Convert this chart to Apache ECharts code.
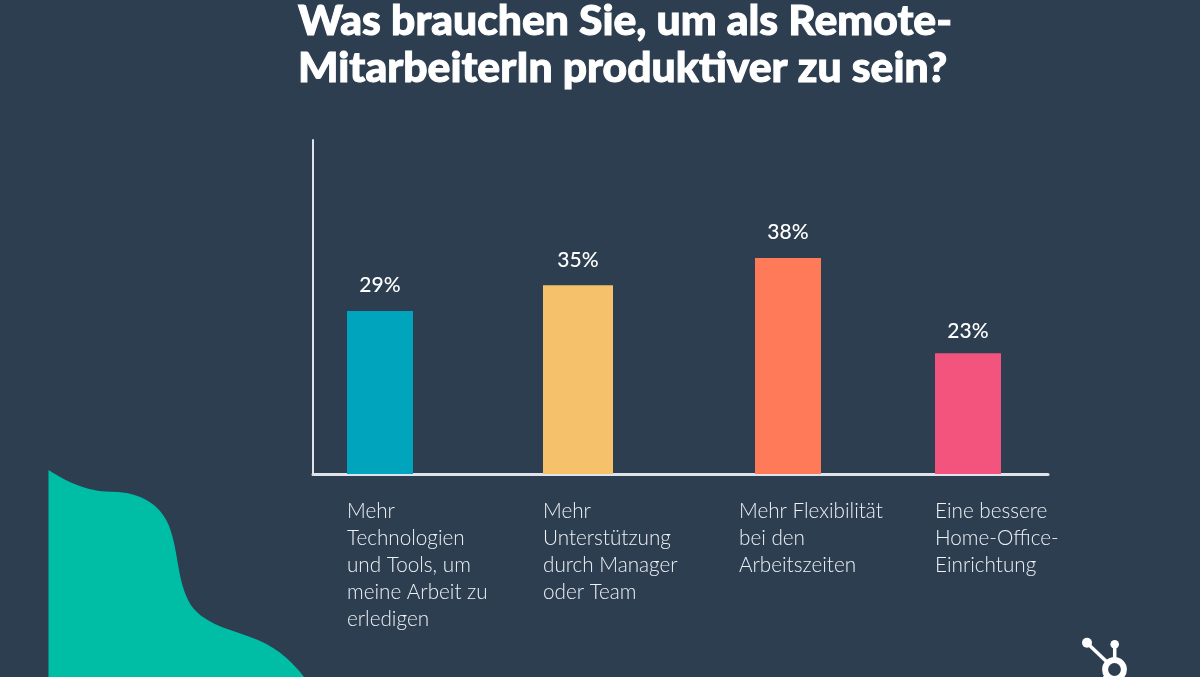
<!DOCTYPE html>
<html>
<head>
<meta charset="utf-8">
<style>
  html, body { margin: 0; padding: 0; background: #2d3e50; }
  #chart { width: 1200px; height: 677px; }
</style>
<script src="https://cdn.jsdelivr.net/npm/echarts@6/dist/echarts.min.js"></script>
</head>
<body>
<div id="chart"></div>
<script>
// Texte und Werte aus der Vorlage
var categories = [
  'Mehr\nTechnologien\nund Tools, um\nmeine Arbeit zu\nerledigen',
  'Mehr\nUnterstützung\ndurch Manager\noder Team',
  'Mehr Flexibilität\nbei den\nArbeitszeiten',
  'Eine bessere\nHome-Office-\nEinrichtung'
];
// printed labels
var percentLabels = ['29%', '35%', '38%', '23%'];
// bar lengths as drawn: the original's bars are not quite proportional to their labels
var barLengths = [29.3, 33.9, 38.8, 21.7];
var barColors = ['#00a4bd', '#f5c26b', '#ff7a59', '#f2547d'];

// the bars sit at uneven distances, so every bar gets its own small grid
var barLefts = [347, 543, 755, 935];
var barWidths = [66, 70, 66, 66];
var labelGaps = [15, 15, 15, 11];

var PLOT_TOP = 140, PLOT_HEIGHT = 334, AXIS_MAX = 60;

// Deko-Form unten links
echarts.graphic.registerShape('blob', echarts.graphic.extendShape({
  buildPath: function (ctx) {
    ctx.moveTo(48.5, 470);
    ctx.bezierCurveTo(65, 481, 88, 491.7, 110, 491.7);
    ctx.bezierCurveTo(140, 491, 165, 505, 172, 535);
    ctx.bezierCurveTo(178, 555, 178, 580, 188, 600);
    ctx.bezierCurveTo(200, 625, 235, 630, 258, 640);
    ctx.bezierCurveTo(280, 649, 295, 665, 304, 677);
    ctx.lineTo(48.5, 677);
    ctx.closePath();
  }
}));

var chart = echarts.init(document.getElementById('chart'));

var grids = [
  // axis lines
  { left: 313, width: 735, top: PLOT_TOP, height: PLOT_HEIGHT },
  // category labels, one every 196 px
  { left: 347, width: 588, top: PLOT_TOP, height: PLOT_HEIGHT }
];
var xAxes = [
  {
    gridIndex: 0, type: 'category', data: [''],
    axisLine: { lineStyle: { color: '#dfe3eb', width: 3 } },
    axisTick: { show: false }, axisLabel: { show: false }
  },
  {
    gridIndex: 1, type: 'category', data: categories, boundaryGap: false,
    axisLine: { show: false }, axisTick: { show: false },
    axisLabel: {
      interval: 0, align: 'left', verticalAlign: 'top', margin: 24,
      color: '#eef1f5', fontFamily: 'Lato', fontWeight: 300, fontSize: 20.7, lineHeight: 27
    }
  }
];
var yAxes = [
  {
    gridIndex: 0, type: 'value', min: 0, max: AXIS_MAX,
    axisLine: { show: true, lineStyle: { color: '#dfe3eb', width: 2 } },
    axisTick: { show: false }, axisLabel: { show: false }, splitLine: { show: false }
  },
  { gridIndex: 1, type: 'value', min: 0, max: AXIS_MAX, show: false, splitLine: { show: false } }
];
var series = [];

barLengths.forEach(function (len, i) {
  var idx = i + 2;
  grids.push({ left: barLefts[i], width: barWidths[i], top: PLOT_TOP, height: PLOT_HEIGHT });
  xAxes.push({ gridIndex: idx, type: 'category', data: [percentLabels[i]], show: false });
  yAxes.push({ gridIndex: idx, type: 'value', min: 0, max: AXIS_MAX, show: false, splitLine: { show: false } });
  series.push({
    type: 'bar',
    xAxisIndex: idx,
    yAxisIndex: idx,
    data: [len],
    barWidth: '100%',
    itemStyle: { color: barColors[i] },
    label: {
      show: true,
      position: 'top',
      distance: labelGaps[i],
      formatter: percentLabels[i],
      color: '#ffffff',
      fontFamily: 'Lato',
      fontWeight: 500,
      fontSize: 21
    }
  });
});

chart.setOption({
  animation: false,
  backgroundColor: '#2d3e50',
  title: {
    text: 'Was brauchen Sie, um als Remote-\nMitarbeiterIn produktiver zu sein?',
    left: 298,
    top: -2.5,
    padding: 0,
    textStyle: {
      color: '#ffffff',
      fontFamily: 'Lato',
      fontWeight: 900,
      fontSize: 42.6,
      lineHeight: 47,
      textBorderColor: '#ffffff',
      textBorderWidth: 1
    }
  },
  grid: grids,
  xAxis: xAxes,
  yAxis: yAxes,
  series: series,
  graphic: [
    { type: 'blob', style: { fill: '#00bda5' } },
    // HubSpot-Logo, unten abgeschnitten
    { type: 'line', shape: { x1: 1087, y1: 643, x2: 1107, y2: 662 }, style: { stroke: '#ffffff', lineWidth: 3.5 } },
    { type: 'line', shape: { x1: 1114.7, y1: 645, x2: 1114.7, y2: 658 }, style: { stroke: '#ffffff', lineWidth: 3.5 } },
    { type: 'line', shape: { x1: 1108, y1: 675, x2: 1104, y2: 678 }, style: { stroke: '#ffffff', lineWidth: 3.5 } },
    { type: 'circle', shape: { cx: 1087, cy: 642.7, r: 5 }, style: { fill: '#ffffff' } },
    { type: 'circle', shape: { cx: 1114.7, cy: 644.3, r: 4.3 }, style: { fill: '#ffffff' } },
    { type: 'circle', shape: { cx: 1114.5, cy: 669.5, r: 9.4 }, style: { fill: 'none', stroke: '#ffffff', lineWidth: 6 } }
  ]
});
</script>
</body>
</html>
